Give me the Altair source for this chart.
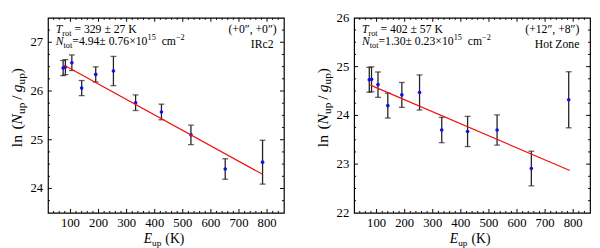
import altair as alt
import pandas as pd

# ---------------- data ----------------
E_up = [74, 82, 105, 140, 190, 253, 332, 424, 529, 651, 784]

irc2_val = [26.47, 26.49, 26.58, 26.06, 26.34, 26.41, 25.76, 25.57, 25.10, 24.40, 24.54]
irc2_err = [0.155, 0.155, 0.16, 0.155, 0.155, 0.30, 0.16, 0.16, 0.20, 0.21, 0.45]
irc2_fit_E = [78, 784]
irc2_fit_val = [26.53, 24.29]

hot_val = [24.73, 24.74, 24.63, 24.20, 24.42, 24.47, 23.70, 23.67, 23.70, 22.91, 24.32]
hot_err = [0.255, 0.255, 0.26, 0.255, 0.255, 0.36, 0.26, 0.31, 0.31, 0.355, 0.575]
hot_fit_E = [78, 788]
hot_fit_val = [24.62, 22.87]

x_domain = [20, 860]
x_major = [100, 200, 300, 400, 500, 600, 700, 800]
x_labels = ["100", "200", "300", "400", "500", "600", "700", "800"]
x_minor = [v for v in range(40, 860, 20) if v % 100 != 0]

irc2_ydomain = [23.5, 27.5]
irc2_ylabels = [24, 25, 26, 27]
hot_ydomain = [22, 26]
hot_ylabels = [22, 23, 24, 25, 26]

irc2_T = "= 329 \u00b1 27 K"
irc2_N = ["=4.94\u00b1 0.76\u00d710", "15"]
irc2_pos = "(+0\u2033, +0\u2033)"
irc2_name = "IRc2"
hot_T = "= 402 \u00b1 57 K"
hot_N = ["=1.30\u00b1 0.23\u00d710", "15"]
hot_pos = "(+12\u2033, +8\u2033)"
hot_name = "Hot Zone"

# ---------------- styling ----------------
FONT = "Liberation Serif"
W, H = 242, 200
BLUE = "#1010ee"
RED = "#ee1111"
BAR = "#222222"

REG = {' ': .25, '.': .25, ',': .25, '(': .333, ')': .333, '+': .564, '=': .564,
       '\u00b1': .549, '\u00d7': .564, '\u2212': .564, 'K': .722, 'c': .444, 'm': .778,
       'l': .278, 'n': .5, 'u': .5, 'p': .5, 'r': .333, 'o': .5, 't': .278, '/': .278,
       'H': .722, 'Z': .611, 'e': .444, 'I': .333, 'R': .667, 'C': .667}
ITA = {'T': .556, 'N': .667, 'E': .611, 'g': .5}


def tw(s, size, italic=False):
    tbl = ITA if italic else REG
    return sum(tbl.get(c, 0.5) for c in s) * size


def piece(tag, text, x, y, size, italic=False, angle=None, align="left"):
    kw = dict(font=FONT, fontSize=size, align=align, baseline="alphabetic", color="black")
    if italic:
        kw["fontStyle"] = "italic"
    if angle is not None:
        kw["angle"] = angle
    one = pd.DataFrame({"panel": [tag], "txt": [text]})
    return alt.Chart(one).mark_text(**kw).encode(
        x=alt.value(x), y=alt.value(y), text="txt:N")


def rich(tag, parts, x0, y0, rotate=False):
    """parts: (text, size, italic, baseline shift, extra gap before in em)"""
    out = []
    adv = 0.0
    for text, size, ital, shift, gap in parts:
        adv += gap * size
        if rotate:
            out.append(piece(tag, text, x0 + shift, y0 - adv, size, ital, angle=270))
        else:
            out.append(piece(tag, text, x0 + adv, y0 + shift, size, ital))
        adv += tw(text, size, ital)
    return out


def rich_width(parts):
    return sum(tw(t, s, i) + g * s for t, s, i, _, g in parts)


def panel(tag, vals, errs, fitE, fitV, ydom, ylabels, T_txt, N_txt, pos_txt, name_txt,
          pos_dx, name_dx):
    df = pd.DataFrame({"E": E_up, "v": vals,
                       "lo": [a - b for a, b in zip(vals, errs)],
                       "hi": [a + b for a, b in zip(vals, errs)]})
    fit = pd.DataFrame({"E": fitE, "v": fitV, "panel": tag})
    xs = alt.Scale(domain=x_domain, nice=False, zero=False)
    ys = alt.Scale(domain=ydom, nice=False, zero=False)

    def X(f):
        return alt.X(f, scale=xs, axis=None, title=None)

    def Y(f):
        return alt.Y(f, scale=ys, axis=None, title=None)

    # tick labels first
    xl = pd.DataFrame({"E": x_major, "lab": x_labels, "panel": tag})
    layers = [alt.Chart(xl).mark_text(font=FONT, fontSize=13, align="center",
                                       baseline="alphabetic", color="black").encode(
        x=X("E:Q"), y=alt.value(H + 15), text="lab:N")]
    yl = pd.DataFrame({"v": ylabels, "lab": [str(v) for v in ylabels], "panel": tag})
    layers.append(alt.Chart(yl).mark_text(font=FONT, fontSize=13, align="right",
                                           baseline="middle", dx=-5, color="black").encode(
        y=Y("v:Q"), x=alt.value(0), text="lab:N"))

    bars = alt.Chart(df).mark_rule(color=BAR, strokeWidth=1.3).encode(
        x=X("E:Q"), y=Y("lo:Q"), y2="hi:Q")
    cap_lo = alt.Chart(df).mark_tick(color=BAR, orient="horizontal", size=6, thickness=1.3).encode(
        x=X("E:Q"), y=Y("lo:Q"))
    cap_hi = alt.Chart(df).mark_tick(color=BAR, orient="horizontal", size=6, thickness=1.3).encode(
        x=X("E:Q"), y=Y("hi:Q"))
    pts = alt.Chart(df).mark_point(filled=True, shape="circle", size=14, color=BLUE, opacity=1).encode(
        x=X("E:Q"), y=Y("v:Q"))
    line = alt.Chart(fit).mark_line(color=RED, strokeWidth=1.2).encode(
        x=X("E:Q"), y=Y("v:Q"))

    layers += [bars, cap_lo, cap_hi, pts, line]

    # inward ticks on all four sides
    ymaj_vals = [v for v in range(int(ydom[0]), int(ydom[1]) + 1) if ydom[0] < v < ydom[1]]
    ymin_vals = []
    q = ydom[0]
    while q < ydom[1] - 1e-9:
        if q > ydom[0] + 1e-9 and abs(q - round(q)) > 1e-9:
            ymin_vals.append(round(q, 2))
        q += 0.25
    for i, (vals_, ln) in enumerate(((x_major, 4), (x_minor, 2))):
        d = pd.DataFrame({"E": vals_, "panel": tag, "kind": "x%d" % i})
        layers.append(alt.Chart(d).mark_rule(color="black", strokeWidth=1).encode(
            x=X("E:Q"), y=alt.value(H), y2=alt.value(H - ln)))
        layers.append(alt.Chart(d).mark_rule(color="black", strokeWidth=1).encode(
            x=X("E:Q"), y=alt.value(0), y2=alt.value(ln)))
    for i, (vals_, ln) in enumerate(((ymaj_vals, 4), (ymin_vals, 2))):
        d = pd.DataFrame({"v": vals_, "panel": tag, "kind": "y%d" % i})
        layers.append(alt.Chart(d).mark_rule(color="black", strokeWidth=1).encode(
            y=Y("v:Q"), x=alt.value(0), x2=alt.value(ln)))
        layers.append(alt.Chart(d).mark_rule(color="black", strokeWidth=1).encode(
            y=Y("v:Q"), x=alt.value(W), x2=alt.value(W - ln)))

    # in-panel annotations
    F, S = 12, 8.5
    layers += rich(tag, [("T", F, True, 0, 0), ("rot", S, False, 3, 0), (T_txt, F, False, 0, 0.25)], 8, 16)
    layers += rich(tag, [("N", F, True, 0, 0), ("tot", S, False, 3, 0), (N_txt[0], F, False, 0, 0),
                         (N_txt[1], S, False, -5, 0), ("cm", F, False, 0, 0.5),
                         ("\u22122", S, False, -5, 0)], 8, 28)
    layers.append(piece(tag, pos_txt, W - pos_dx, 16, F, align="right"))
    layers.append(piece(tag, name_txt, W - name_dx, 31, F, align="right"))

    # axis titles with sub-scripts
    TF, TS = 16, 11.5
    ypar = [("ln", TF, False, 0, 0), ("(", TF, False, 0, 0.35), ("N", TF, True, 0, 0),
            ("up", TS, False, 3.5, 0), ("/", TF, False, 0, 0.2), ("g", TF, True, 0, 0.2),
            ("up", TS, False, 3.5, 0), (")", TF, False, 0, 0)]
    yw = rich_width(ypar)
    layers += rich(tag, ypar, -27, H / 2 - 8 + yw / 2, rotate=True)
    XF, XS = 14, 9.5
    xpar = [("E", XF, True, 0, 0), ("up", XS, False, 3, 0), ("(K)", XF, False, 0, 0.3)]
    xw = rich_width(xpar)
    layers += rich(tag, xpar, W / 2 - 2 - xw / 2, H + 31)

    return alt.layer(*layers).properties(width=W, height=H)


left = panel("irc2", irc2_val, irc2_err, irc2_fit_E, irc2_fit_val, irc2_ydomain, irc2_ylabels,
             irc2_T, irc2_N, irc2_pos, irc2_name, 7.4, 10.7)
right = panel("hot", hot_val, hot_err, hot_fit_E, hot_fit_val, hot_ydomain, hot_ylabels,
              hot_T, hot_N, hot_pos, hot_name, 11, 11)

chart = alt.hconcat(left, right, spacing=29).properties(
    padding={"left": 0, "top": 0, "right": 0, "bottom": 0},
    background="white",
).configure_view(stroke="black", strokeWidth=1.2)

chart.save("out.html", embed_options={"renderer": "svg", "actions": False})
